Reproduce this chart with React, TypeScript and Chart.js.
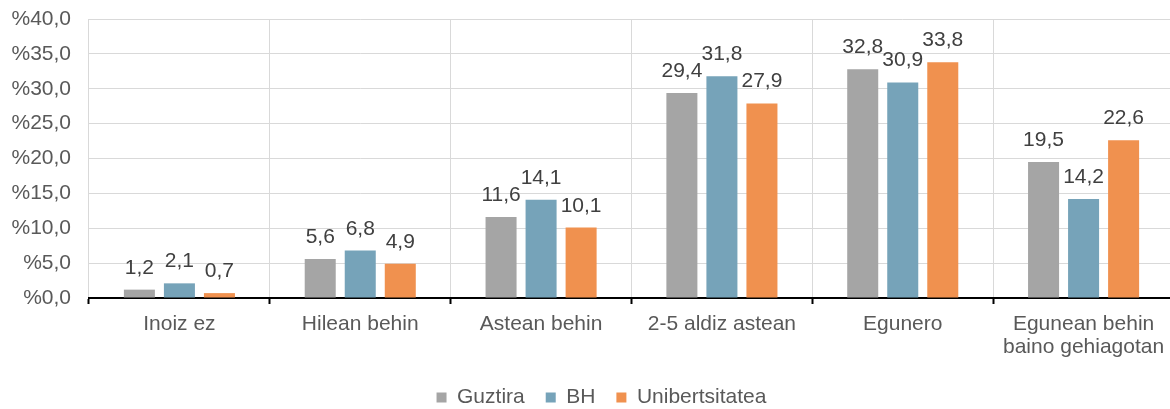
import React, { useEffect, useRef } from 'react';
import { Chart, registerables } from 'chart.js';

Chart.register(...registerables);

const categories: (string | string[])[] = [
  'Inoiz ez',
  'Hilean behin',
  'Astean behin',
  '2-5 aldiz astean',
  'Egunero',
  ['Egunean behin', 'baino gehiagotan'],
];
const seriesNames = ['Guztira', 'BH', 'Unibertsitatea'];
const guztira = [1.2, 5.6, 11.6, 29.4, 32.8, 19.5];
const bh = [2.1, 6.8, 14.1, 31.8, 30.9, 14.2];
const unibertsitatea = [0.7, 4.9, 10.1, 27.9, 33.8, 22.6];
const seriesColors = ['#A5A5A5', '#76A3B9', '#F0914F'];
const yMin = 0;
const yMax = 40;
const yStep = 5;

const FONT = '"Liberation Sans", Arial, sans-serif';

const fmt = (v: number) => v.toFixed(1).replace('.', ',');

const dataLabels = {
  id: 'dataLabels',
  afterDatasetsDraw(chart: any) {
    const ctx = chart.ctx;
    ctx.save();
    ctx.font = `21px ${FONT}`;
    ctx.fillStyle = '#404040';
    ctx.textAlign = 'center';
    ctx.textBaseline = 'alphabetic';
    chart.data.datasets.forEach((ds: any, di: number) => {
      const meta = chart.getDatasetMeta(di);
      meta.data.forEach((el: any, i: number) => {
        ctx.fillText(fmt(ds.data[i]), el.x, el.y - 16);
      });
    });
    ctx.restore();
  },
};

const legendShift = {
  id: 'legendShift',
  afterLayout(chart: any) {
    const lg = chart.legend;
    if (lg) {
      lg.left += 9.5;
      lg.right += 9.5;
    }
  },
};

export default function App() {
  const ref = useRef<HTMLCanvasElement>(null);
  useEffect(() => {
    if (!ref.current) return;
    const all = [guztira, bh, unibertsitatea];
    const chart = new Chart(ref.current, {
      type: 'bar',
      data: {
        labels: categories,
        datasets: all.map((d, i) => ({
          label: seriesNames[i],
          data: d,
          backgroundColor: seriesColors[i],
          borderWidth: 0,
          categoryPercentage: 0.664,
          barPercentage: 0.775,
        })),
      },
      options: {
        responsive: false,
        animation: false,
        layout: { padding: { left: 10, right: 0, top: 19, bottom: 0 } },
        plugins: {
          tooltip: { enabled: false },
          legend: {
            position: 'bottom',
            maxHeight: 43,
            labels: {
              boxWidth: 10,
              boxHeight: 10,
              padding: 21,
              color: '#595959',
              font: { family: FONT, size: 21 },
            },
          },
        },
        scales: {
          x: {
            z: 1,
            grid: {
              color: '#D9D9D9',
              lineWidth: 1,
              offset: true,
              drawTicks: true,
              tickLength: 6,
              tickColor: '#000000',
              tickWidth: 2,
            },
            border: { display: true, color: '#000000', width: 2 },
            ticks: {
              color: '#595959',
              padding: 9,
              maxRotation: 0,
              autoSkip: false,
              font: { family: FONT, size: 21, lineHeight: 1.1 },
            },
            afterFit: (scale: any) => {
              scale.height = 68;
            },
          },
          y: {
            min: yMin,
            max: yMax,
            grid: {
              color: '#D9D9D9',
              lineWidth: 1,
              drawTicks: true,
              tickLength: 18,
              tickColor: 'rgba(0,0,0,0)',
            },
            border: { display: false },
            ticks: {
              stepSize: yStep,
              padding: 0,
              color: '#595959',
              font: { family: FONT, size: 21 },
              callback: (v: any) => '%' + fmt(Number(v)),
            },
            afterFit: (scale: any) => {
              scale.width = 79;
            },
          },
        },
      },
      plugins: [dataLabels, legendShift],
    } as any);
    return () => chart.destroy();
  }, []);
  return (
    <div
      style={{
        position: 'fixed',
        left: 0,
        top: 0,
        width: 1170,
        height: 409,
        overflow: 'hidden',
        background: '#fff',
      }}
    >
      <canvas ref={ref} width={1174} height={409} style={{ display: 'block' }} />
    </div>
  );
}
